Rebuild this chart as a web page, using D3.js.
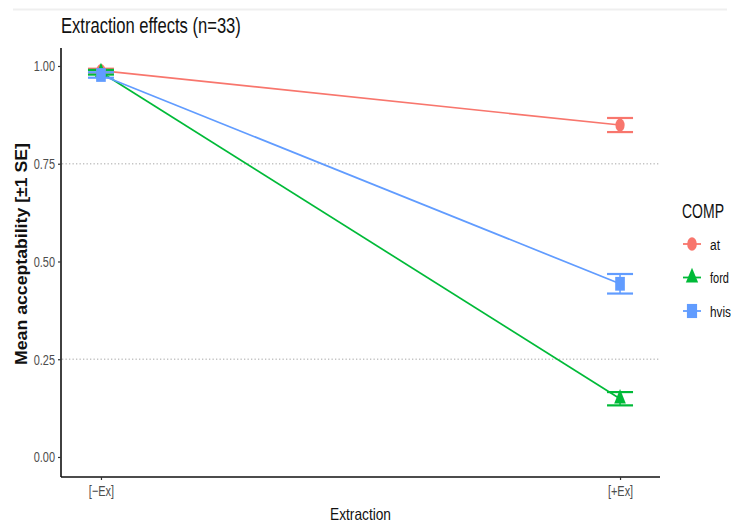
<!DOCTYPE html>
<html>
<head>
<meta charset="utf-8">
<script src="https://cdn.jsdelivr.net/npm/d3@7"></script>
<style>
  html, body { margin: 0; padding: 0; background: #fff; }
  svg { display: block; }
  text { font-family: "Liberation Sans", Arial, sans-serif; }
</style>
</head>
<body>
<script>
// Condition labels on the x axis
const categories = ["[\u2212Ex]", "[+Ex]"];
// Complementizer groups
const comps = ["at", "ford", "hvis"];
// Mean acceptability per condition, one array per group
const atMean   = [0.988, 0.849];
const fordMean = [0.984, 0.149];
const hvisMean = [0.977, 0.443];
// Standard errors per condition
const atSE   = [0.005, 0.018];
const fordSE = [0.006, 0.017];
const hvisSE = [0.007, 0.025];
// Axis ticks
const yTicks = [0, 0.25, 0.5, 0.75, 1.0];
const yTickLabels = ["0.00", "0.25", "0.50", "0.75", "1.00"];
// Dotted reference lines
const refLines = [0.25, 0.75];

const colors = { at: "#F8766D", ford: "#00BA38", hvis: "#619CFF" };
const shapes = { at: d3.symbolCircle, ford: d3.symbolTriangle, hvis: d3.symbolSquare };
const shapeSize = { at: 135, ford: 120, hvis: 190 };

const series = [
  { comp: "at",   mean: atMean,   se: atSE },
  { comp: "ford", mean: fordMean, se: fordSE },
  { comp: "hvis", mean: hvisMean, se: hvisSE }
];

const W = 731, H = 523;
const svg = d3.select("body").append("svg").attr("width", W).attr("height", H);

// narrow text: place a label and shrink it horizontally to a given width
function narrow(sel, px, py, width, extra) {
  sel.each(function () {
    const len = this.getComputedTextLength();
    const k = width / len;
    d3.select(this).attr("x", 0).attr("y", 0)
      .attr("transform", `translate(${px},${py}) ${extra || ""} scale(${k},1)`);
  });
  return sel;
}
// shrink axis tick labels by a fixed factor, keeping their anchor
function narrowTicks(sel, k) {
  sel.each(function () {
    const t = d3.select(this);
    const tx = +t.attr("x") || 0, ty = +t.attr("y") || 0;
    t.attr("x", 0).attr("y", 0).attr("transform", `translate(${tx},${ty}) scale(${k},1)`);
  });
}

// faint header rule
svg.append("line").attr("x1", 13).attr("x2", 727).attr("y1", 9.5).attr("y2", 9.5)
  .attr("stroke", "#efefef").attr("stroke-width", 2);

const x = d3.scalePoint().domain(categories).range([61, 660]).padding(0.077);
const y = d3.scaleLinear().domain([-0.0512, 1.046]).range([477, 48]);

// dotted reference lines
svg.append("g").selectAll("line").data(refLines).join("line")
  .attr("x1", 62).attr("x2", 660)
  .attr("y1", d => y(d)).attr("y2", d => y(d))
  .attr("stroke", "#c4c4c4").attr("stroke-width", 1.3)
  .attr("stroke-dasharray", "1.3,2.2");

// axes
const yAxis = svg.append("g").attr("transform", "translate(61,0)")
  .call(d3.axisLeft(y).tickValues(yTicks).tickFormat((d, i) => yTickLabels[i]).tickSize(3).tickPadding(3));
const xAxis = svg.append("g").attr("transform", "translate(0,477)")
  .call(d3.axisBottom(x).tickSize(3).tickPadding(3));
[yAxis, xAxis].forEach(g => {
  g.select(".domain").attr("stroke", "#111").attr("stroke-width", 1.6);
  g.selectAll(".tick line").attr("stroke", "#333").attr("stroke-width", 1.2);
  g.selectAll(".tick text").attr("fill", "#4d4d4d").attr("font-size", 15)
    .attr("font-family", "Liberation Sans, Arial, sans-serif");
});
yAxis.select(".domain").attr("d", `M0,${y.range()[1]}V${y.range()[0]}`);
xAxis.select(".domain").attr("d", `M61,0H660`);
xAxis.selectAll(".tick text").attr("dy", "0.85em");
narrowTicks(yAxis.selectAll(".tick text"), 0.73);
narrowTicks(xAxis.selectAll(".tick text"), 0.73);

// connecting lines
const line = d3.line().x((d, i) => x(categories[i])).y(d => y(d));
svg.append("g").selectAll("path").data(series).join("path")
  .attr("d", s => line(s.mean))
  .attr("fill", "none").attr("stroke", s => colors[s.comp]).attr("stroke-width", 1.7);

// error bars
const capHalf = 13;
const eb = svg.append("g");
series.forEach(s => {
  const g = eb.append("g").attr("stroke", colors[s.comp]);
  s.mean.forEach((m, i) => {
    const cx = x(categories[i]);
    g.append("line").attr("x1", cx).attr("x2", cx)
      .attr("y1", y(m + s.se[i])).attr("y2", y(m - s.se[i])).attr("stroke-width", 1.5);
    [m + s.se[i], m - s.se[i]].forEach(v => {
      g.append("line").attr("x1", cx - capHalf).attr("x2", cx + capHalf)
        .attr("y1", y(v)).attr("y2", y(v)).attr("stroke-width", 2.2);
    });
  });
});

// points
const pts = svg.append("g");
series.forEach(s => {
  pts.selectAll(null).data(s.mean).join("path")
    .attr("d", d3.symbol().type(shapes[s.comp]).size(shapeSize[s.comp]))
    .attr("transform", (d, i) => `translate(${x(categories[i])},${y(d)}) scale(0.7,1)`)
    .attr("fill", colors[s.comp]);
});

// title
narrow(svg.append("text").attr("font-size", 22).attr("fill", "#111")
  .text("Extraction effects (n=33)"), 61, 33, 180);

// axis titles
narrow(svg.append("text").attr("text-anchor", "middle")
  .attr("font-size", 16.5).attr("fill", "#111").text("Extraction"), 360.5, 520, 61);
narrow(svg.append("text")
  .attr("text-anchor", "middle").attr("font-size", 16).attr("font-weight", "bold")
  .attr("fill", "#111").text("Mean acceptability [\u00b11 SE]"), 27, 254, 222, "rotate(-90)");

// legend
const lg = svg.append("g");
narrow(lg.append("text").attr("font-size", 20).attr("fill", "#111").text("COMP"), 682, 218, 42);
const legY = d3.scalePoint().domain(comps).range([244, 311]);
const legW = { at: 10, ford: 19, hvis: 21 };
comps.forEach(c => {
  const cy = legY(c);
  lg.append("line").attr("x1", 683).attr("x2", 701).attr("y1", cy).attr("y2", cy)
    .attr("stroke", colors[c]).attr("stroke-width", 1.8);
  lg.append("path")
    .attr("d", d3.symbol().type(shapes[c]).size(shapeSize[c] * 1.05))
    .attr("transform", `translate(692,${cy}) scale(0.72,1)`)
    .attr("fill", colors[c]);
  narrow(lg.append("text").attr("font-size", 15).attr("fill", "#111").text(c), 710, cy + 5.5, legW[c]);
});
</script>
</body>
</html>
